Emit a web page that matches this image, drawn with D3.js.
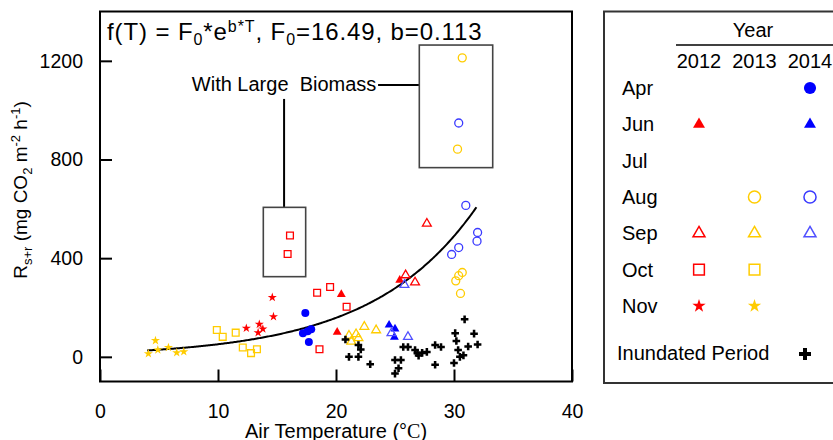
<!DOCTYPE html>
<html><head><meta charset="utf-8">
<script src="https://cdn.jsdelivr.net/npm/d3@7"></script>
<style>
body{margin:0;background:#fff}
svg text{font-family:"Liberation Sans",Arial,sans-serif;fill:#000}
</style></head><body>
<svg id="chart" width="833" height="440"></svg>
<script>
// fitted curve f(T) = F0*exp(b*T)
var F0 = 16.49, b = 0.113
var fitRange = [4, 31.9]

// [air temperature, Rs+r]
var apr2014 = [[17.4,178],[17.9,112],[17.6,104],[17.2,96],[17.7,60]]
var jun2012 = [[20.45,253],[20.1,100],[25.4,311]]
var jun2014 = [[24.5,129],[25.0,113],[24.95,80]]
var aug2013 = [[30.7,342],[30.4,329],[30.15,308],[30.55,257],[30.7,1212],[30.3,842]]
var aug2014 = [[31.0,614],[32.0,504],[31.95,469],[30.4,443],[29.8,415],[30.4,948]]
var sep2012 = [[27.7,540],[25.9,331],[26.7,302]]
var sep2013 = [[22.4,122],[23.4,108],[21.1,86],[21.7,92],[21.9,76],[21.3,62]]
var sep2014 = [[24.7,96],[26.1,81],[25.8,292]]
var oct2012 = [[18.4,260],[19.5,283],[20.9,203],[18.6,31],[16.1,492],[15.9,417]]
var oct2013 = [[9.9,109],[10.4,81],[11.5,98],[12.1,38],[12.8,15],[13.3,31]]
var nov2012 = [[12.4,116],[14.6,241],[14.7,163],[13.5,132],[13.8,113],[13.4,98]]
var nov2013 = [[4.1,13],[4.7,66],[4.9,28],[5.8,38],[6.5,17],[7.1,21]]
var inundated = [[20.8,70],[21.9,48],[22.1,30],[21.1,0],[21.9,0],[22.9,-30],
  [25.7,40],[26.1,40],[25.0,-13],[25.5,-13],[25.3,-46],[25.0,-68],
  [26.7,28],[26.9,15],[27.0,5],[27.3,16],[27.7,20],[28.4,48],[28.9,40],[28.4,-32],
  [30.1,96],[30.9,152],[31.7,94],[30.2,64],[30.35,28],[31.2,42],[32.0,50],
  [30.8,6],[30.5,0],[30.0,-25]]

var months = ["Apr","Jun","Jul","Aug","Sep","Oct","Nov"]
var years = [2012,2013,2014]
var xTicks = [0,10,20,30,40]
var yTicks = [0,400,800,1200]

// annotation boxes in data units
var box1 = {x0:13.84, x1:17.43, y0:325, y1:606}
var box2 = {x0:27.06, x1:33.28, y0:767, y1:1264}
var noteText = "With Large  Biomass"
var notePos = [15.6, 1078]

var red = "#ff0000", gold = "#ffcc00", blue = "#0000ff"

var series = [
  {month:"Apr", year:2014, data:apr2014, shape:d3.symbolCircle, color:blue, filled:true},
  {month:"Jun", year:2012, data:jun2012, shape:d3.symbolTriangle, color:red, filled:true},
  {month:"Jun", year:2014, data:jun2014, shape:d3.symbolTriangle, color:blue, filled:true},
  {month:"Aug", year:2013, data:aug2013, shape:d3.symbolCircle, color:gold, filled:false},
  {month:"Aug", year:2014, data:aug2014, shape:d3.symbolCircle, color:"#3a3aff", filled:false},
  {month:"Sep", year:2012, data:sep2012, shape:d3.symbolTriangle, color:red, filled:false},
  {month:"Sep", year:2013, data:sep2013, shape:d3.symbolTriangle, color:gold, filled:false},
  {month:"Sep", year:2014, data:sep2014, shape:d3.symbolTriangle, color:"#5050ff", filled:false},
  {month:"Oct", year:2012, data:oct2012, shape:d3.symbolSquare, color:red, filled:false},
  {month:"Oct", year:2013, data:oct2013, shape:d3.symbolSquare, color:gold, filled:false},
  {month:"Nov", year:2012, data:nov2012, shape:d3.symbolStar, color:red, filled:true},
  {month:"Nov", year:2013, data:nov2013, shape:d3.symbolStar, color:gold, filled:true}
]

function plotSize(s) {
  if (s == d3.symbolCircle) return 50
  if (s == d3.symbolTriangle) return 34
  if (s == d3.symbolSquare) return 46
  if (s == d3.symbolStar) return 26
  return 32
}
function legSize(s) {
  if (s == d3.symbolCircle) return 115
  if (s == d3.symbolTriangle) return 62
  if (s == d3.symbolSquare) return 115
  if (s == d3.symbolStar) return 55
  return 80
}

var svg = d3.select("#chart")
var x = d3.scaleLinear().domain([0,40]).range([100,572])
var y = d3.scaleLinear().domain([-100,1400]).range([381.5,11.5])

// axes: ticks point inwards
var gx = svg.append("g").attr("transform", "translate(0," + y(-100) + ")")
gx.call(d3.axisBottom(x).tickValues(d3.range(5,40,10)).tickSize(-6).tickSizeOuter(0).tickFormat(""))
gx.call(d3.axisBottom(x).tickValues(xTicks).tickSize(-12).tickSizeOuter(0).tickPadding(23).tickFormat(d3.format("d")))
var gy = svg.append("g").attr("transform", "translate(" + x(0) + ",0)")
gy.call(d3.axisLeft(y).tickValues([200,600,1000]).tickSize(-6).tickSizeOuter(0).tickFormat(""))
gy.call(d3.axisLeft(y).tickValues(yTicks).tickSize(-12).tickSizeOuter(0).tickPadding(17).tickFormat(d3.format("d")))
svg.selectAll(".domain").remove()
svg.selectAll(".tick line").attr("stroke","#000").attr("stroke-width",2)
svg.selectAll(".tick text").style("font-size","19.5px").attr("font-family",null)

svg.append("rect")
  .attr("x", x(0)).attr("y", y(1400))
  .attr("width", x(40) - x(0)).attr("height", y(-100) - y(1400))
  .attr("fill","none").attr("stroke","#000").attr("stroke-width",2)

// title formula
var t = svg.append("text").attr("x", x(0) + 7).attr("y", 40)
  .style("font-size","24px").style("letter-spacing","0.9px")
t.append("tspan").text("f(T) = F")
t.append("tspan").attr("dy",5).style("font-size","16px").text("0")
t.append("tspan").attr("dy",-5).text("*e")
t.append("tspan").attr("dy",-8).style("font-size","16px").text("b*T")
t.append("tspan").attr("dy",8).text(", F")
t.append("tspan").attr("dy",5).style("font-size","16px").text("0")
t.append("tspan").attr("dy",-5).text("=16.49, b=0.113")

// annotation
svg.append("text").attr("x", x(notePos[0])).attr("y", y(notePos[1]))
  .attr("text-anchor","middle").style("font-size","20px").style("white-space","pre").text(noteText)
svg.append("line")
  .attr("x1", x(notePos[0])).attr("x2", x(notePos[0]))
  .attr("y1", y(notePos[1]) + 8).attr("y2", y(box1.y1))
  .attr("stroke","#000").attr("stroke-width",2)
svg.append("line")
  .attr("x1", x(notePos[0]) + 94).attr("x2", x(box2.x0))
  .attr("y1", y(notePos[1]) - 6).attr("y2", y(notePos[1]) - 6)
  .attr("stroke","#000").attr("stroke-width",2)
;[box1, box2].forEach(function(bx) {
  svg.append("rect")
    .attr("x", x(bx.x0)).attr("y", y(bx.y1))
    .attr("width", x(bx.x1) - x(bx.x0)).attr("height", y(bx.y0) - y(bx.y1))
    .attr("fill","none").attr("stroke","#444").attr("stroke-width",1.6)
})

// fitted curve
var fit = d3.range(fitRange[0], fitRange[1] + 0.01, 0.1).map(function(T) { return [T, F0 * Math.exp(b * T)] })
svg.append("path").datum(fit)
  .attr("d", d3.line().x(function(d) { return x(d[0]) }).y(function(d) { return y(d[1]) }))
  .attr("fill","none").attr("stroke","#000").attr("stroke-width",2)

// points
series.forEach(function(s) {
  svg.append("g").selectAll("path")
    .data(s.data)
    .join("path")
    .attr("transform", function(d) { return "translate(" + x(d[0]) + "," + y(d[1]) + ")" })
    .attr("d", d3.symbol().type(s.shape).size(plotSize(s.shape)))
    .attr("fill", s.filled ? s.color : "none")
    .attr("stroke", s.filled ? "none" : s.color)
    .attr("stroke-width", 1.3)
})
svg.append("g").selectAll("path")
  .data(inundated)
  .join("path")
  .attr("transform", function(d) { return "translate(" + x(d[0]) + "," + y(d[1]) + ")" })
  .attr("d", d3.symbol().type(d3.symbolCross).size(32))
  .attr("fill","#000")

// legend
var leg = svg.append("g")
leg.append("rect").attr("x",604).attr("y",11.5).attr("width",260).attr("height",371.5)
  .attr("fill","none").attr("stroke","#333").attr("stroke-width",2)
var col = d3.scalePoint().domain(years).range([699,810])
var row = d3.scalePoint().domain(months).range([88,306])
leg.append("text").attr("x",753).attr("y",37).attr("text-anchor","middle").style("font-size","20px").text("Year")
leg.append("line").attr("x1",676).attr("x2",840).attr("y1",45).attr("y2",45).attr("stroke","#000").attr("stroke-width",1.5)
leg.selectAll(".yr").data(years).join("text").attr("class","yr")
  .attr("x", function(d) { return col(d) }).attr("y",68)
  .attr("text-anchor","middle").style("font-size","20px").text(function(d) { return d })
leg.selectAll(".mo").data(months).join("text").attr("class","mo")
  .attr("x",622).attr("y", function(d) { return row(d) + 7 })
  .style("font-size","20px").text(function(d) { return d })
series.forEach(function(s) {
  leg.append("path")
    .attr("transform", "translate(" + col(s.year) + "," + row(s.month) + ")")
    .attr("d", d3.symbol().type(s.shape).size(legSize(s.shape)))
    .attr("fill", s.filled ? s.color : "none")
    .attr("stroke", s.filled ? "none" : s.color)
    .attr("stroke-width", 1.5)
})
leg.append("text").attr("x",617).attr("y",360).style("font-size","20px").text("Inundated Period")
leg.append("path").attr("transform","translate(805,354)")
  .attr("d", d3.symbol().type(d3.symbolCross).size(legSize(d3.symbolCross))).attr("fill","#000")

// axis titles
var xl = svg.append("text").attr("x",336).attr("y",438).attr("text-anchor","middle").style("font-size","20px")
xl.append("tspan").text("Air Temperature (°")
xl.append("tspan").style("font-family","'Liberation Serif',serif").text("C")
xl.append("tspan").text(")")

var yl = svg.append("text").attr("transform","translate(27,190) rotate(-90)").attr("text-anchor","middle").style("font-size","19px")
yl.append("tspan").text("R")
yl.append("tspan").attr("dy",5).style("font-size","13px").text("s+r")
yl.append("tspan").attr("dy",-5).text(" (mg CO")
yl.append("tspan").attr("dy",5).style("font-size","13px").text("2")
yl.append("tspan").attr("dy",-5).text(" m")
yl.append("tspan").attr("dy",-7).style("font-size","13px").text("-2")
yl.append("tspan").attr("dy",7).text(" h")
yl.append("tspan").attr("dy",-7).style("font-size","13px").text("-1")
yl.append("tspan").attr("dy",7).text(")")
</script>
</body></html>
